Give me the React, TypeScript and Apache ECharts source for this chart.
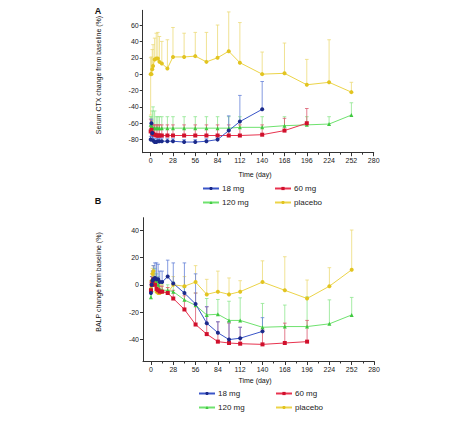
import React, { useEffect, useRef } from "react";
import * as echarts from "echarts";

// ---------- data ----------
const daysTo140 = [0, 1, 2, 3, 5, 7, 9, 11, 14, 21, 28, 42, 56, 70, 84, 98, 112, 140];
const daysTo196 = [0, 1, 2, 3, 5, 7, 9, 11, 14, 21, 28, 42, 56, 70, 84, 98, 112, 140, 168, 196];
const daysTo252 = [0, 1, 2, 3, 5, 7, 9, 11, 14, 21, 28, 42, 56, 70, 84, 98, 112, 140, 168, 196, 224, 252];

const seriesNames = ["18 mg", "60 mg", "120 mg", "placebo"];

// Panel A: serum CTX change from baseline (%)
const ctx18 = [-80, -60, -72, -81, -83, -83, -82, -82, -82, -82, -82, -83, -83, -82, -80, -69, -58, -43];
const ctx18Upper = [-76, -55, -66, -76, -79, -79, -78, -78, -78, -79, -79, -80, -80, -79, -76, -51, -26, -9];
const ctx60 = [-70, -68, -72, -73, -74, -75, -75, -75, -75, -75, -75, -75, -75, -75, -75, -75, -75, -74, -69, -60];
const ctx60Upper = [-55, -57, -62, -62, -62, -62, -62, -62, -62, -62, -62, -62, -62, -62, -62, -62, -62, -62, -54, -42];
const ctx120 = [-62, -64, -65, -66, -66, -66, -66, -66, -66, -66, -66, -66, -66, -66, -66, -66, -65, -65, -63, -62, -61, -50];
const ctx120Upper = [-52, -52, -45, -40, -45, -52, -52, -52, -52, -52, -52, -52, -52, -52, -52, -52, -52, -52, -52, -52, -52, -35];
const ctxPlacebo = [0, 0, 6, 10, 18, 19, 19, 15, 13, 7, 21, 21, 22, 15, 20, 28, 14, 0, 1, -13, -10, -22];
const ctxPlaceboUpper = [20, 21, 30, 36, 44, 50, 51, 46, 40, 42, 57, 50, 51, 51, 60, 76, 63, 27, 38, 18, 42, -10];
const ctxPlaceboLower = [-50, 0, 6, 10, 18, 19, 19, 15, 13, 7, 21, 21, 22, 15, 20, 28, 14, 0, 1, -13, -10, -22];

// Panel B: BALP change from baseline (%)
const balp18 = [-6, 0, 3, 4, 5, 4, 4, 2, 2, 6, 1, -6, -14, -28, -35, -40, -39, -34];
const balp18Upper = [0, 6, 10, 14, 16, 16, 15, 10, 10, 18, 16, 16, 8, -16, -27, -27, -31, -24];
const balp60 = [-4, 0, 2, 4, 0, -3, -4, -5, -5, -6, -10, -18, -29, -36, -41.5, -42.5, -43, -43.5, -42.5, -41.5];
const balp60Upper = [2, 6, 8, 10, 6, 2, 0, -1, -1, -2, -4, -8, -6, -16, -27, -28, -31, -33, -28, -26];
const balp120 = [-9, -4, 0, 2, 5, 3, 0, -3, -4, -4, -5, -11, -15, -22, -21.5, -26, -26, -31, -30.5, -30.5, -28.5, -22];
const balp120Upper = [-4, 2, 6, 10, 12, 8, 6, 3, 2, 0, 2, -2, -6, -10, -10.7, -12, -9.5, -13.6, -14.8, -8.8, -11, -9.2];
const balpPlacebo = [-3, 3, 8, 10, 2, -5, -6, -6, -5, -6, 0, -1, 2, -7, -5, -7, -5, 2, -4, -10, -1, 11];
const balpPlaceboUpper = [3, 8, 12, 14, 8, 2, 0, 0, 0, -2, 6, 6, 14, 4, 10, 5, 3, 17.5, 20.5, 3.5, 12.5, 40];

// ticks
const xLabelTicks = [0, 28, 56, 84, 112, 140, 168, 196, 224, 252, 280];
const xMinorTicks = [0, 14, 28, 42, 56, 70, 84, 98, 112, 126, 140, 154, 168, 182, 196, 210, 224, 238, 252, 266, 280];
const yTicksA = [-80, -60, -40, -20, 0, 20, 40, 60];
const yTicksB = [-40, -20, 0, 20, 40];

// ---------- styling ----------
const FONT = "Liberation Sans, Arial, sans-serif";
const STY: Record<string, { line: string; mark: string; err: string; symbol: string }> = {
  "18 mg": { line: "#3a55c8", mark: "#1b2a8a", err: "#6582d8", symbol: "circle" },
  "60 mg": { line: "#e8334f", mark: "#d0102c", err: "#dc5a6e", symbol: "rect" },
  "120 mg": { line: "#6ee26e", mark: "#3fc93f", err: "#8ee68e", symbol: "triangle" },
  placebo: { line: "#ecd448", mark: "#e2c420", err: "#ecdb78", symbol: "circle" },
};

function lineSeries(name: string, days: number[], vals: number[], axis: number) {
  const s = STY[name];
  return {
    type: "line",
    name,
    xAxisIndex: axis,
    yAxisIndex: axis,
    data: days.map((d, i) => [d, vals[i]]),
    symbol: s.symbol,
    symbolSize: 4,
    showSymbol: true,
    lineStyle: { color: s.line, width: 1 },
    itemStyle: { color: s.mark },
    z: 3,
  };
}

function errSeries(name: string, days: number[], vals: number[], upper: number[], lower: number[] | null, axis: number) {
  const s = STY[name];
  return {
    type: "custom",
    name: name + " SD",
    xAxisIndex: axis,
    yAxisIndex: axis,
    data: days.map((d, i) => [d, lower ? lower[i] : vals[i], upper[i], vals[i]]),
    encode: { x: 0, y: [1, 2] },
    z: 2,
    renderItem: (_p: any, api: any) => {
      const x = api.value(0);
      const lo = api.value(1);
      const hi = api.value(2);
      const mean = api.value(3);
      const pLo = api.coord([x, lo]);
      const pHi = api.coord([x, hi]);
      const w = 1.8;
      const st = { stroke: s.err, lineWidth: 0.8 };
      const children: any[] = [
        { type: "line", shape: { x1: pLo[0], y1: pLo[1], x2: pHi[0], y2: pHi[1] }, style: st },
        { type: "line", shape: { x1: pHi[0] - w, y1: pHi[1], x2: pHi[0] + w, y2: pHi[1] }, style: st },
      ];
      if (lo < mean) {
        children.push({ type: "line", shape: { x1: pLo[0] - w, y1: pLo[1], x2: pLo[0] + w, y2: pLo[1] }, style: st });
      }
      return { type: "group", children };
    },
  };
}

function xAxisDef(grid: number) {
  return {
    type: "value",
    gridIndex: grid,
    min: -10,
    max: 280,
    position: "bottom",
    axisLine: { show: true, onZero: false, lineStyle: { color: "#333", width: 1 } },
    axisTick: { show: true, customValues: xMinorTicks, length: 2, lineStyle: { color: "#333" } },
    axisLabel: { customValues: xLabelTicks, fontSize: 7, color: "#222", fontFamily: FONT, margin: 4 },
    splitLine: { show: false },
  };
}
function xAxisMajor(grid: number) {
  return {
    type: "value",
    gridIndex: grid,
    min: -10,
    max: 280,
    position: "bottom",
    axisLine: { show: false, onZero: false },
    axisTick: { show: true, customValues: xLabelTicks, length: 3.5, lineStyle: { color: "#333" } },
    axisLabel: { show: false },
    splitLine: { show: false },
  };
}
function yAxisDef(grid: number, min: number, max: number, ticks: number[]) {
  return {
    type: "value",
    gridIndex: grid,
    min,
    max,
    axisLine: { show: true, onZero: false, lineStyle: { color: "#333", width: 1 } },
    axisTick: { show: true, customValues: ticks, length: 3, lineStyle: { color: "#333" } },
    axisLabel: { customValues: ticks, fontSize: 7, color: "#222", fontFamily: FONT, margin: 4 },
    splitLine: { show: false },
  };
}

function legendDef(names: string[], left: number, top: number) {
  return {
    data: names,
    orient: "vertical",
    left,
    top,
    padding: 0,
    itemGap: 6,
    itemWidth: 16,
    itemHeight: 4,
    textStyle: { fontSize: 8, color: "#222", fontFamily: FONT, padding: [0, 0, 0, -2] },
    selectedMode: false,
  };
}

function txt(text: string, x: number, y: number, size: number, rot = 0, bold = false) {
  return {
    type: "text",
    x,
    y,
    rotation: rot,
    style: {
      text,
      fontSize: size,
      fontFamily: FONT,
      fontWeight: bold ? "bold" : "normal",
      fill: "#111",
      align: "center",
      verticalAlign: "middle",
    },
  };
}

export default function App() {
  const ref = useRef<HTMLDivElement>(null);
  useEffect(() => {
    if (!ref.current) return;
    const chart = echarts.init(ref.current, null, { renderer: "svg" });
    chart.setOption({
      animation: false,
      backgroundColor: "#fff",
      grid: [
        { left: 142.7, top: 10.3, width: 231, height: 142.4 },
        { left: 143, top: 217.7, width: 231, height: 143.8 },
      ],
      xAxis: [xAxisDef(0), xAxisDef(1), xAxisMajor(0), xAxisMajor(1)],
      yAxis: [yAxisDef(0, -96, 78, yTicksA), yAxisDef(1, -56, 49, yTicksB)],
      legend: [
        legendDef(["18 mg", "120 mg"], 202, 184.5),
        legendDef(["60 mg", "placebo"], 274, 184.5),
        legendDef(["18 mg", "120 mg"], 198, 389.5),
        legendDef(["60 mg", "placebo"], 275, 389.5),
      ],
      graphic: [
        txt("A", 98, 10.8, 9, 0, true),
        txt("B", 98, 201.2, 9, 0, true),
        txt("Serum CTX change from baseline (%)", 98, 75, 7, Math.PI / 2),
        txt("BALP change from baseline (%)", 98.3, 282, 7, Math.PI / 2),
        txt("Time (day)", 255, 174, 7),
        txt("Time (day)", 255, 380.7, 7),
      ],
      series: [
        errSeries("placebo", daysTo252, ctxPlacebo, ctxPlaceboUpper, ctxPlaceboLower, 0),
        errSeries("120 mg", daysTo252, ctx120, ctx120Upper, null, 0),
        errSeries("60 mg", daysTo196, ctx60, ctx60Upper, null, 0),
        errSeries("18 mg", daysTo140, ctx18, ctx18Upper, null, 0),
        lineSeries("placebo", daysTo252, ctxPlacebo, 0),
        lineSeries("120 mg", daysTo252, ctx120, 0),
        lineSeries("60 mg", daysTo196, ctx60, 0),
        lineSeries("18 mg", daysTo140, ctx18, 0),
        errSeries("placebo", daysTo252, balpPlacebo, balpPlaceboUpper, null, 1),
        errSeries("120 mg", daysTo252, balp120, balp120Upper, null, 1),
        errSeries("60 mg", daysTo196, balp60, balp60Upper, null, 1),
        errSeries("18 mg", daysTo140, balp18, balp18Upper, null, 1),
        lineSeries("placebo", daysTo252, balpPlacebo, 1),
        lineSeries("120 mg", daysTo252, balp120, 1),
        lineSeries("60 mg", daysTo196, balp60, 1),
        lineSeries("18 mg", daysTo140, balp18, 1),
      ],
    });
    return () => chart.dispose();
  }, []);
  return (
    <div
      ref={ref}
      style={{ position: "fixed", left: 0, top: 0, width: 474, height: 422, background: "#fff" }}
      data-names={seriesNames.join(",")}
    />
  );
}
